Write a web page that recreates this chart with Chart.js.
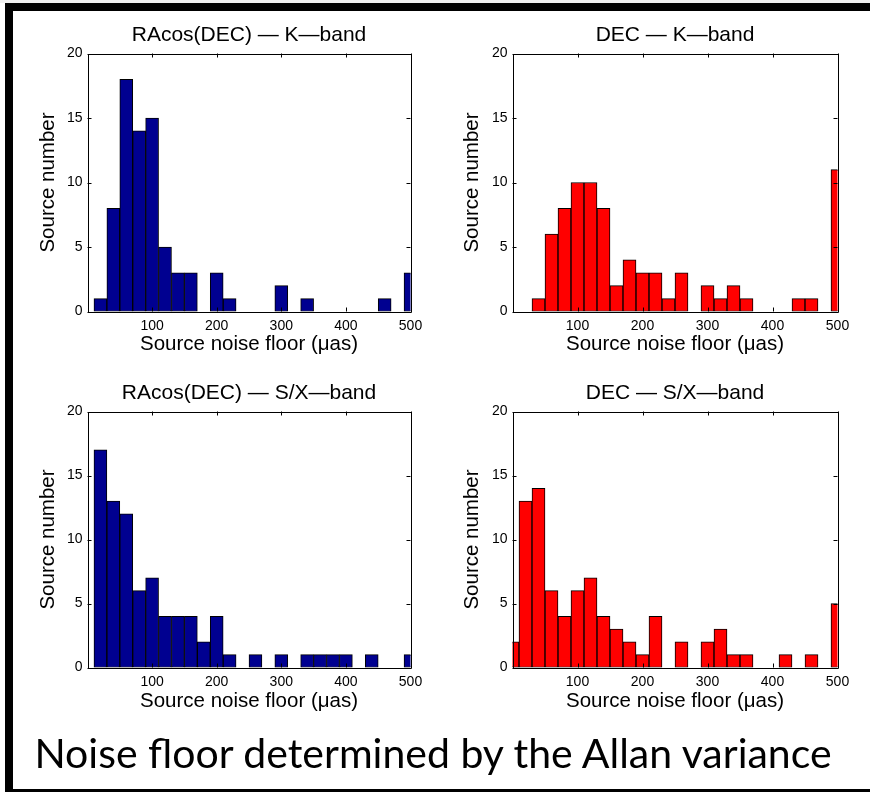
<!DOCTYPE html>
<html>
<head>
<meta charset="utf-8">
<script src="https://cdn.jsdelivr.net/npm/chart.js@4.4.0/dist/chart.umd.min.js"></script>
<style>
  html, body { margin: 0; padding: 0; background: #fff; }
  #page { position: relative; width: 870px; height: 792px; overflow: hidden; background: #fff; }
  #strip { position: absolute; left: 0; top: 0; width: 870px; height: 3px; background: #efefef; }
  #frameTop { position: absolute; left: 5px; top: 3px; width: 870px; height: 8px; background: #000; }
  #frameLeft { position: absolute; left: 5px; top: 3px; width: 8px; height: 792px; background: #000; }
  #frameBottom { position: absolute; left: 5px; top: 789px; width: 870px; height: 3px; background: #000; }
  .panel { position: absolute; width: 435px; height: 370px; }
  .panel canvas { display: block; }
  #caption {
    position: absolute; left: 0; width: 866px; top: 729px;
    text-align: center; font-family: Lato, "Open Sans", sans-serif;
    font-size: 41px; line-height: 48px; color: #000; white-space: nowrap;
  }
</style>
</head>
<body>
<div id="page">
  <div id="strip"></div>
  <div id="frameTop"></div>
  <div id="frameLeft"></div>
  <div id="frameBottom"></div>
  <div class="panel" style="left:0;top:0"><canvas id="c1" width="435" height="370"></canvas></div>
  <div class="panel" style="left:435px;top:0"><canvas id="c2" width="435" height="370"></canvas></div>
  <div class="panel" style="left:0;top:370px"><canvas id="c3" width="435" height="370"></canvas></div>
  <div class="panel" style="left:435px;top:370px"><canvas id="c4" width="435" height="370"></canvas></div>
  <div id="caption">Noise floor determined by the Allan variance</div>
</div>

<script>
// histogram bins (µas), 20 wide, centred on these values
var binCenters = [0, 20, 40, 60, 80, 100, 120, 140, 160, 180, 200, 220, 240,
                  260, 280, 300, 320, 340, 360, 380, 400, 420, 440, 460, 480, 500];

// source counts per bin
var raK   = [0, 1, 8, 18, 14, 15, 5, 3, 3, 0, 3, 1, 0, 0, 0, 2, 0, 1, 0, 0, 0, 0, 0, 1, 0, 3];
var decK  = [0, 0, 1, 6, 8, 10, 10, 8, 2, 4, 3, 3, 1, 3, 0, 2, 1, 2, 1, 0, 0, 0, 1, 1, 0, 11];
var raSX  = [0, 17, 13, 12, 6, 7, 4, 4, 4, 2, 4, 1, 0, 1, 0, 1, 0, 1, 1, 1, 1, 0, 1, 0, 0, 1];
var decSX = [2, 13, 14, 6, 4, 6, 7, 4, 3, 2, 1, 4, 0, 2, 0, 2, 3, 1, 1, 0, 0, 1, 0, 1, 0, 5];

var xTicks = [100, 200, 300, 400, 500];
var yTicks = [0, 5, 10, 15, 20];

var FONT = '"Liberation Sans", Arial, Helvetica, sans-serif';
var NAVY = '#000090';
var RED = '#ff0000';

Chart.defaults.color = '#000';
Chart.defaults.font.family = FONT;

// matlab-ish axes box with inward ticks on all four sides
var boxPlugin = {
    id: 'axesBox',
    afterDatasetsDraw: function(chart) {
        var ctx = chart.ctx;
        var a = chart.chartArea;
        var xs = chart.scales.x, ys = chart.scales.y;
        var len = 4;
        ctx.save();
        ctx.strokeStyle = '#000';
        ctx.lineWidth = 1;
        ctx.beginPath();
        ctx.rect(Math.round(a.left) + 0.5, Math.round(a.top) + 0.5,
                 Math.round(a.right - a.left), Math.round(a.bottom - a.top));
        xTicks.forEach(function(v) {
            var px = Math.round(xs.getPixelForValue(v)) + 0.5;
            ctx.moveTo(px, a.bottom); ctx.lineTo(px, a.bottom - len);
            ctx.moveTo(px, a.top); ctx.lineTo(px, a.top + len);
        });
        yTicks.forEach(function(v) {
            var py = Math.round(ys.getPixelForValue(v)) + 0.5;
            ctx.moveTo(a.left, py); ctx.lineTo(a.left + len, py);
            ctx.moveTo(a.right, py); ctx.lineTo(a.right - len, py);
        });
        ctx.stroke();
        ctx.restore();
    }
};

function makeHist(id, title, counts, color, box) {
    var points = binCenters.map(function(c, i) { return { x: c, y: counts[i] }; });

    var config = {
        type: 'bar',
        data: {
            datasets: [{
                data: points,
                backgroundColor: color,
                borderColor: '#000',
                borderWidth: 1,
                borderSkipped: false,
                barPercentage: 1.0,
                categoryPercentage: 1.0
            }]
        },
        options: {
            responsive: false,
            animation: false,
            events: [],
            layout: { padding: { left: 0, top: 0, bottom: 0, right: 435 - box.right } },
            plugins: {
                legend: { display: false },
                tooltip: { enabled: false },
                title: {
                    display: true,
                    text: title,
                    fullSize: false,
                    font: { size: 21, weight: 'normal', family: FONT },
                    padding: { top: box.titleMid - 12.6, bottom: box.top - box.titleMid - 12.6 }
                }
            },
            scales: {
                x: {
                    type: 'linear',
                    min: 0,
                    max: 500,
                    offset: false,
                    grid: { display: false, drawTicks: false },
                    border: { display: false },
                    ticks: {
                        stepSize: 100,
                        padding: 6,
                        maxRotation: 0,
                        font: { size: 14 },
                        callback: function(v) { return v === 0 ? '' : v; }
                    },
                    title: {
                        display: true,
                        text: 'Source noise floor (\u03bcas)',
                        font: { size: 20.5 },
                        padding: { top: 0, bottom: 370 - 12.3 - box.xTitle }
                    },
                    afterFit: function(s) { s.height = 370 - box.bottom; }
                },
                y: {
                    min: 0,
                    max: 20,
                    grid: { display: false, drawTicks: false },
                    border: { display: false },
                    ticks: { stepSize: 5, padding: 5, font: { size: 14 } },
                    title: {
                        display: true,
                        text: 'Source number',
                        font: { size: 20.5 },
                        padding: { top: box.yTitle - 12.3, bottom: 0 }
                    },
                    afterFit: function(s) { s.width = box.left; }
                }
            }
        },
        plugins: [boxPlugin]
    };

    return new Chart(document.getElementById(id), config);
}

var leftCol  = { left: 87.5, right: 410.5, yTitle: 48 };
var rightCol = { left: 77.5, right: 402.5, yTitle: 37.5 };
var topRow    = { top: 53.5, bottom: 311.5, titleMid: 35, xTitle: 344.5 };
var bottomRow = { top: 41.5, bottom: 297.5, titleMid: 23.3, xTitle: 331 };

function panelBox(col, row) {
    return {
        left: col.left, right: col.right, yTitle: col.yTitle,
        top: row.top, bottom: row.bottom, titleMid: row.titleMid, xTitle: row.xTitle
    };
}

makeHist('c1', 'RAcos(DEC) \u2014 K\u2014band', raK, NAVY, panelBox(leftCol, topRow));
makeHist('c2', 'DEC \u2014 K\u2014band', decK, RED, panelBox(rightCol, topRow));
makeHist('c3', 'RAcos(DEC) \u2014 S/X\u2014band', raSX, NAVY, panelBox(leftCol, bottomRow));
makeHist('c4', 'DEC \u2014 S/X\u2014band', decSX, RED, panelBox(rightCol, bottomRow));
</script>
</body>
</html>
